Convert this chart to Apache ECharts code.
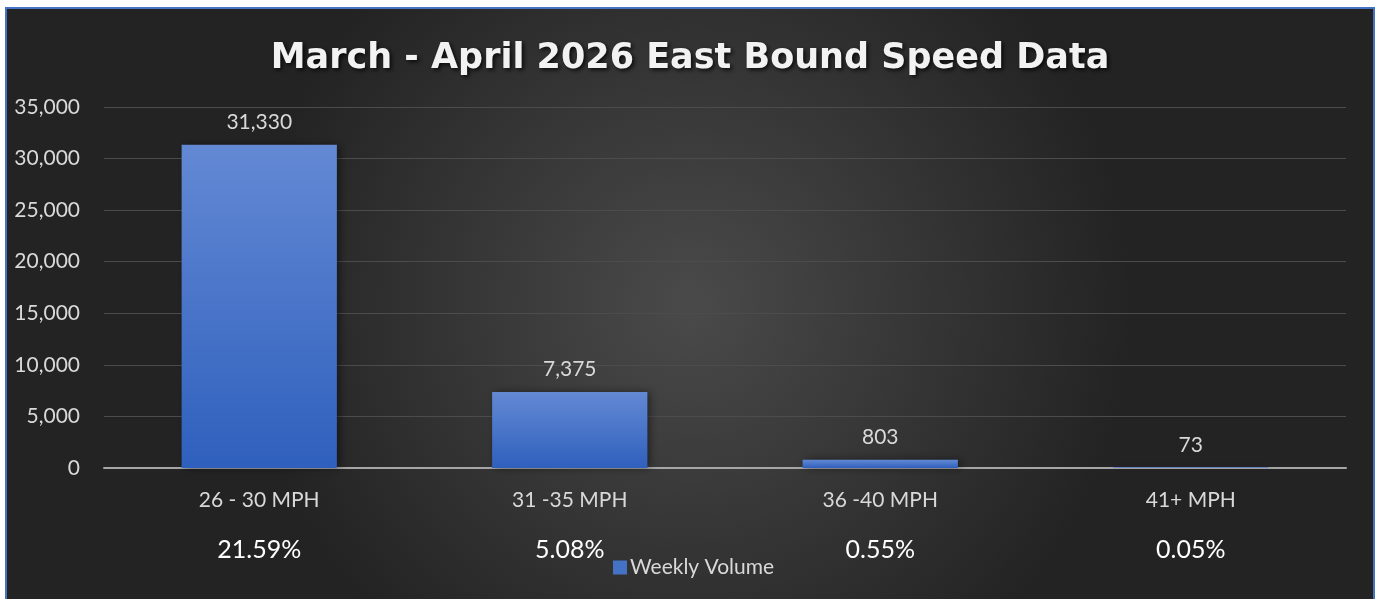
<!DOCTYPE html>
<html>
<head>
<meta charset="utf-8">
<script src="https://cdn.jsdelivr.net/npm/echarts@6/dist/echarts.min.js"></script>
<style>
  html, body { margin: 0; padding: 0; background: #fff; }
  #chart {
    position: absolute;
    left: 5px;
    top: 7px;
    width: 1370px;
    height: 594px;
    box-sizing: border-box;
    border: 2px solid #4472c4;
  }
</style>
</head>
<body>
<div id="chart"></div>
<script>
// data
var categories = ["26 - 30 MPH", "31 -35 MPH", "36 -40 MPH", "41+ MPH"];
var weeklyVolume = [31330, 7375, 803, 73];
var percentLabels = ["21.59%", "5.08%", "0.55%", "0.05%"];
var seriesName = "Weekly Volume";
var chartTitle = "March - April 2026 East Bound Speed Data";

var chart = echarts.init(document.getElementById("chart"));

var option = {
  backgroundColor: {
    type: "radial",
    x: 0.5, y: 0.5, r: 0.75,
    colorStops: [
      { offset: 0, color: "#4a4a4a" },
      { offset: 1, color: "#232323" }
    ]
  },
  textStyle: { fontFamily: "Lato" },
  title: {
    text: chartTitle,
    left: "center",
    top: 27,
    textStyle: {
      color: "#f2f2f2",
      fontSize: 35,
      fontWeight: "bold",
      fontFamily: "DejaVu Sans",
      textShadowColor: "rgba(0,0,0,0.8)",
      textShadowBlur: 4,
      textShadowOffsetX: 2,
      textShadowOffsetY: 2
    }
  },
  legend: {
    left: 601,
    top: 543,
    itemWidth: 14,
    itemHeight: 14,
    itemGap: 6,
    icon: "rect",
    itemStyle: { color: "#4472c4" },
    textStyle: { color: "#d9d9d9", fontSize: 21, fontFamily: "Lato", padding: [0, 0, 0, -2] },
    data: [seriesName]
  },
  grid: {
    left: 97,
    top: 98,
    width: 1242,
    height: 361,
    containLabel: false
  },
  xAxis: {
    type: "category",
    data: categories,
    axisTick: { show: false },
    axisLine: { lineStyle: { color: "#a6a6a6", width: 2 } },
    axisLabel: {
      margin: 18,
      formatter: function (value, idx) {
        return "{a|" + value + "}\n{b|" + percentLabels[idx] + "}";
      },
      rich: {
        a: { color: "#d9d9d9", fontSize: 21, lineHeight: 28, fontFamily: "Lato" },
        b: { color: "#ffffff", fontSize: 25, lineHeight: 72, fontFamily: "Lato" }
      }
    }
  },
  yAxis: {
    type: "value",
    min: 0,
    max: 35000,
    interval: 5000,
    axisLine: { show: false },
    axisTick: { show: false },
    axisLabel: {
      color: "#d9d9d9",
      fontSize: 21,
      fontFamily: "Lato",
      margin: 24,
      formatter: function (v) { return v.toLocaleString("en-US"); }
    },
    splitLine: { lineStyle: { color: "#4c4c4c", width: 1 } }
  },
  series: [
    {
      name: seriesName,
      type: "bar",
      barWidth: "50%",
      data: weeklyVolume,
      itemStyle: {
        color: {
          type: "linear", x: 0, y: 0, x2: 0, y2: 1,
          colorStops: [
            { offset: 0, color: "#6389d4" },
            { offset: 1, color: "#2f60bd" }
          ]
        },
        shadowColor: "rgba(0,0,0,0.45)",
        shadowBlur: 8,
        shadowOffsetX: 3,
        shadowOffsetY: 0
      },
      label: {
        show: true,
        position: "top",
        distance: 12,
        color: "#d9d9d9",
        fontSize: 21,
        fontFamily: "Lato",
        formatter: function (p) { return p.value.toLocaleString("en-US"); }
      }
    }
  ]
};

chart.setOption(option);
</script>
</body>
</html>
